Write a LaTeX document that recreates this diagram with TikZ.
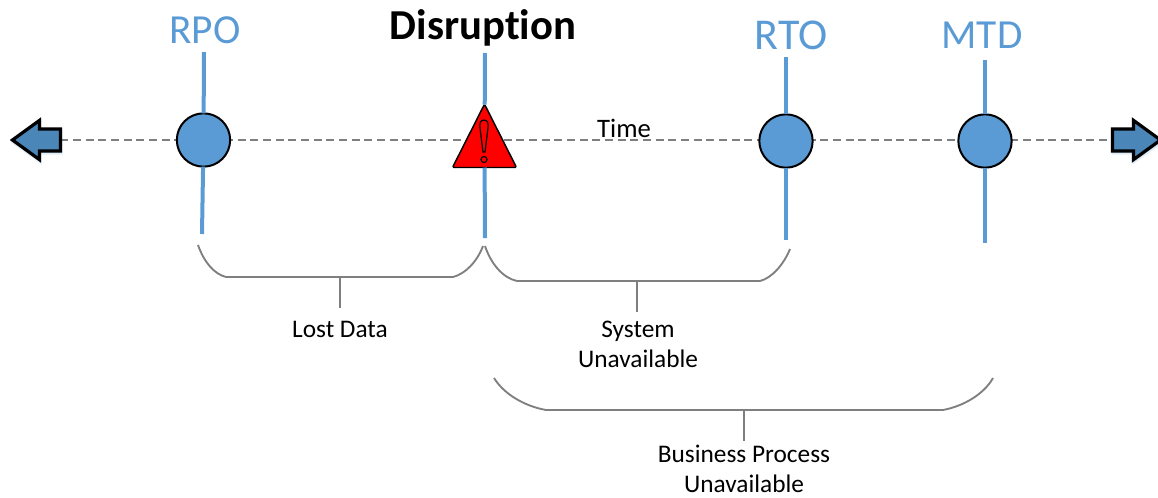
\documentclass[tikz,border=0pt]{standalone}
\usepackage{fontspec}
\setmainfont{Carlito}[Ligatures={TeX,NoCommon}]
\usetikzlibrary{shapes.geometric,shapes.arrows,backgrounds,shadows}
\definecolor{stemblue}{HTML}{5B9BD5}
\definecolor{arrowblue}{HTML}{4A86B8}
\definecolor{bracketgray}{HTML}{7F7F7F}
\definecolor{dashgray}{HTML}{7F7F7F}
\tikzset{
  x=0.75pt,y=-0.75pt,
  marker/.style={circle,draw=black,fill=stemblue,line width=1.5pt,minimum size=40pt,inner sep=0pt,outer sep=0pt},
  stem/.style={draw=stemblue,line width=3pt},
  toparrow/.style={single arrow,draw=black,fill=arrowblue,line width=2.4pt,minimum height=36pt,minimum width=27pt,inner sep=7pt,outer sep=0pt,single arrow head extend=6.5pt,single arrow tip angle=72,text width=0pt,text height=0pt,text depth=0pt,drop shadow={shadow xshift=0.5pt,shadow yshift=-1.5pt,fill=stemblue,draw=stemblue,opacity=0.18}},
  alert/.style={isosceles triangle,isosceles triangle stretches,shape border rotate=90,draw=black,fill=red,line width=1.1pt,rounded corners=1pt,minimum width=48pt,minimum height=47.5pt,inner sep=0pt,outer sep=0pt},
  timelabel/.style={text=stemblue,font=\fontsize{31}{33}\selectfont},
  bracket/.style={draw=bracketgray,line width=1.4pt},
  note/.style={font=\fontsize{19}{22.6}\selectfont,align=center,anchor=north,inner sep=0pt,text=black},
}
\begin{document}
\begin{tikzpicture}
\useasboundingbox (0,0) rectangle (1158,497);
% markers
\node[marker] (rpo) at (203.5,140) {};
\node[marker] (rto) at (786,141) {};
\node[marker] (mtd) at (985,141) {};
\node[alert,anchor=lower side] (dis) at (484.5,167.5) {};
\node[toparrow,shape border rotate=180] (la) at (44,140) {};
\node[toparrow] (ra) at (1129,140) {};
% exclamation mark
\draw[black,line width=0.9pt] (484,120) .. controls (480,120) and (479.5,124) .. (480,128) -- (483,152) -- (485,152) -- (488,128) .. controls (488.5,124) and (488,120) .. (484,120) -- cycle;
\draw[black,line width=0.9pt] (484,159.5) circle[radius=3];
% free ends
\coordinate (rpoT) at (204,52); \coordinate (rpoB) at (202,234);
\coordinate (disT) at (485,53); \coordinate (disB) at (485,238);
\coordinate (rtoT) at (786,57); \coordinate (rtoB) at (786,240);
\coordinate (mtdT) at (985,60); \coordinate (mtdB) at (985,243);
\begin{scope}[on background layer]
\draw[dashgray,line width=1.3pt,dash pattern=on 6pt off 3.5pt] (la) -- (ra);
\end{scope}
\path[stem] (rpoT) -- (rpo); \path[stem] (rpo) -- (rpoB);
\path[stem] (disT) -- (dis); \path[stem] (dis) -- (disB);
\path[stem] (rtoT) -- (rto); \path[stem] (rto) -- (rtoB);
\path[stem] (mtdT) -- (mtd); \path[stem] (mtd) -- (mtdB);
% titles
\node[timelabel] (rpoL) at (205,30) {RPO};
\node[timelabel,font=\fontsize{33}{35}\selectfont] (rtoL) at (791,35) {RTO};
\node[timelabel] (mtdL) at (982,35) {MTD};
\node[font=\fontsize{32}{34}\selectfont\bfseries] (disL) at (483,28) {Disruption};
\node[font=\fontsize{20}{22}\selectfont] (timeL) at (624,128) {Time};
% notes
\node[note] (lost) at (340,320.5) {Lost Data};
\node[note] (sys) at (638,320.5) {System\\Unavailable};
\node[note] (bus) at (744,445) {Business Process\\Unavailable};
% brackets
\coordinate (lostS) at (340,277);
\coordinate (sysS) at (637,281);
\coordinate (busS) at (744,410);
\coordinate (lostE) at (340,308);
\coordinate (sysE) at (637,312);
\coordinate (busE) at (744,441);
\path[bracket] (198,245) .. controls (204,262) and (214,274) .. (226,277) -- (453,277) .. controls (465,274) and (477,262) .. (483,246);
\path[bracket] (lostS) -- (lostE);
\path[bracket] (485,246) .. controls (491,264) and (503,278) .. (517,281) -- (760,281) .. controls (772,278) and (784,264) .. (790,249);
\path[bracket] (sysS) -- (sysE);
\path[bracket] (494,378) .. controls (504,394) and (524,406) .. (546,410) -- (943,410) .. controls (964,406) and (984,394) .. (993,378);
\path[bracket] (busS) -- (busE);
\end{tikzpicture}
\end{document}
